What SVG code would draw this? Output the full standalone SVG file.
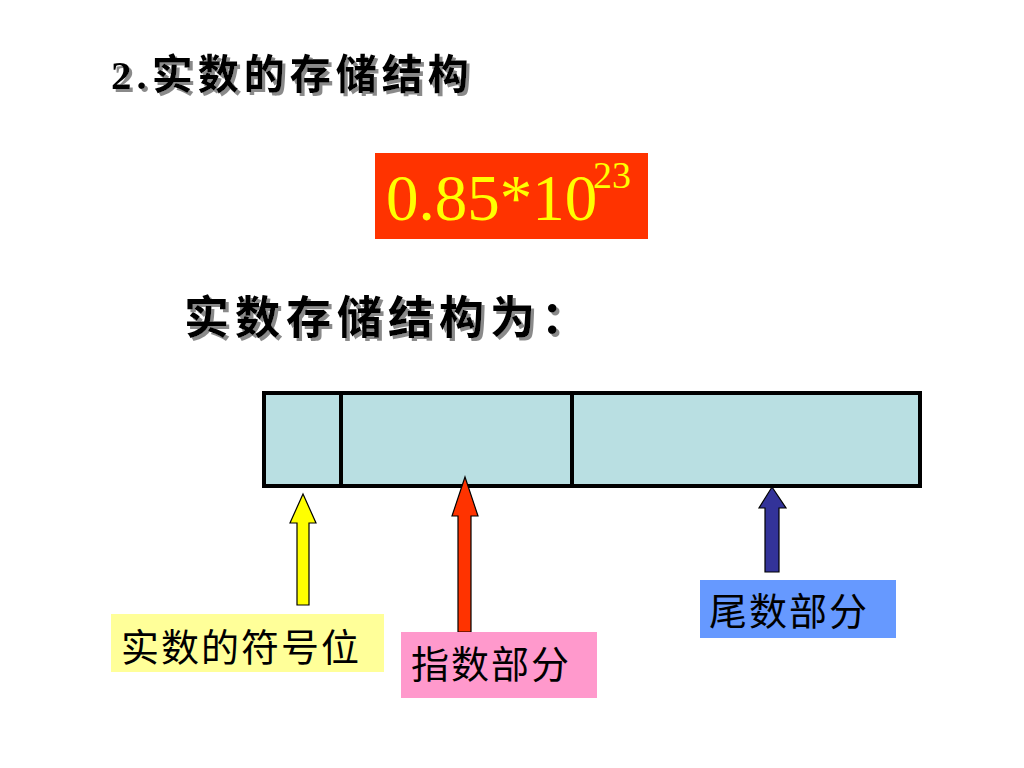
<svg xmlns="http://www.w3.org/2000/svg" width="1024" height="768" viewBox="0 0 1024 768">
<defs>
<filter id="shadow" x="-5%" y="-20%" width="110%" height="140%">
<feFlood flood-color="#8a8a8a" result="c"/>
<feComposite in="c" in2="SourceAlpha" operator="in" result="s"/>
<feOffset in="s" dx="3" dy="3" result="o"/>
<feMerge><feMergeNode in="o"/><feMergeNode in="SourceGraphic"/></feMerge>
</filter>
<style>
.hd{font-family:"Liberation Serif","Noto Sans CJK SC",serif;font-weight:bold;fill:#000;filter:url(#shadow);}
.num{font-family:"Liberation Serif","Times New Roman",serif;fill:#FFFF00;}
.lbl{font-family:"Noto Sans CJK SC",sans-serif;font-size:38px;fill:#000;}
.cell{fill:#B9DFE2;stroke:#000;stroke-width:4;}
.arr{stroke:#000;stroke-width:1.2;stroke-linejoin:miter;}
</style>
</defs>
<rect width="1024" height="768" fill="#fff"/>
<g id="title">
<text class="hd" x="111" y="89" font-size="41" letter-spacing="5">2.实数的存储结构</text>
</g>
<g id="formula">
<rect x="375" y="153" width="273" height="86" fill="#FF3300"/>
<text class="num" x="386" y="220" font-size="65">0.85*10</text>
<text class="num" x="593" y="188" font-size="38">23</text>
</g>
<g id="subtitle">
<text class="hd" x="184" y="334" font-size="45" letter-spacing="6">实数存储结构为：</text>
</g>
<g id="storage">
<rect class="cell" x="264" y="393" width="656" height="93"/>
<line x1="341" y1="393" x2="341" y2="486" stroke="#000" stroke-width="4"/>
<line x1="572" y1="393" x2="572" y2="486" stroke="#000" stroke-width="4"/>
</g>
<g id="connectors">
<polygon class="arr" fill="#FFFF00" points="303,494 316,523 309,523 309,605 297,605 297,523 290,523"/>
<polygon class="arr" fill="#FF3300" points="465,477 478,516 471,516 471,632 458,632 458,516 452,516"/>
<polygon class="arr" fill="#333399" points="772,487 786,508 779,508 779,572 765,572 765,508 759,508"/>
</g>
<g id="sign">
<rect x="111" y="614" width="273" height="58" fill="#FFFF99"/>
<text class="lbl" x="121" y="661" letter-spacing="2">实数的符号位</text>
</g>
<g id="exponent">
<rect x="401" y="632" width="196" height="66" fill="#FF99CC"/>
<text class="lbl" x="411" y="678" letter-spacing="2">指数部分</text>
</g>
<g id="mantissa">
<rect x="700" y="580" width="196" height="58" fill="#6699FF"/>
<text class="lbl" x="709" y="625" letter-spacing="2">尾数部分</text>
</g>
</svg>
